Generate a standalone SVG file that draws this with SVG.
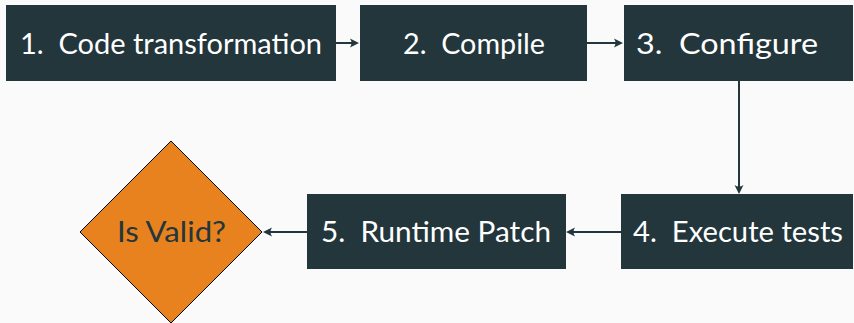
<svg xmlns="http://www.w3.org/2000/svg" width="854" height="323" viewBox="0 0 854 323">
<style>
.bg{fill:#fafafa}
.box{fill:#22363b}
.lbl{font-family:Lato,"Open Sans",sans-serif;font-size:29px;fill:#ffffff}
.dlbl{font-family:Lato,"Open Sans",sans-serif;font-size:29px;fill:#22363b}
.edge{stroke:#22363b;stroke-width:2;fill:none;marker-end:url(#arr)}
.dia{fill:#e8821e;stroke:#000000;stroke-width:1}
</style>
<defs>
<marker id="arr" markerUnits="userSpaceOnUse" viewBox="-10 -6 12 12" refX="-4" refY="0" markerWidth="12" markerHeight="12" orient="auto">
<path d="M0,0 L-9,-4.5 Q-6,0 -9,4.5 Z" fill="#22363b"/>
</marker>
</defs>
<rect class="bg" x="0" y="0" width="854" height="323"/>
<g id="connectors">
<line class="edge" x1="336" y1="43" x2="355" y2="43"/>
<line class="edge" x1="587" y1="43" x2="619" y2="43"/>
<line class="edge" x1="739" y1="81" x2="739" y2="190"/>
<line class="edge" x1="621" y1="232" x2="570" y2="232"/>
<line class="edge" x1="307" y1="232" x2="267" y2="232"/>
</g>
<g id="n1">
<rect class="box" x="6" y="5" width="330" height="76"/>
<text class="lbl" x="20" y="54" xml:space="preserve" textLength="302" lengthAdjust="spacingAndGlyphs">1.  Code transformation</text>
</g>
<g id="n2">
<rect class="box" x="360" y="5" width="227" height="76"/>
<text class="lbl" x="403" y="54" xml:space="preserve" textLength="142" lengthAdjust="spacingAndGlyphs">2.  Compile</text>
</g>
<g id="n3">
<rect class="box" x="624" y="5" width="229" height="76"/>
<text class="lbl" x="636" y="54" xml:space="preserve" textLength="182" lengthAdjust="spacingAndGlyphs">3.  Configure</text>
</g>
<g id="n4">
<rect class="box" x="621" y="194" width="232" height="75"/>
<text class="lbl" x="633" y="242" xml:space="preserve" textLength="210" lengthAdjust="spacingAndGlyphs">4.  Execute tests</text>
</g>
<g id="n5">
<rect class="box" x="307" y="194" width="259" height="75"/>
<text class="lbl" x="321" y="242" xml:space="preserve" textLength="230" lengthAdjust="spacingAndGlyphs">5.  Runtime Patch</text>
</g>
<g id="n6">
<polygon class="dia" points="171,141 262,232 171,323 80,232"/>
<text class="dlbl" x="117" y="242" textLength="109" lengthAdjust="spacingAndGlyphs">Is Valid?</text>
</g>
</svg>
